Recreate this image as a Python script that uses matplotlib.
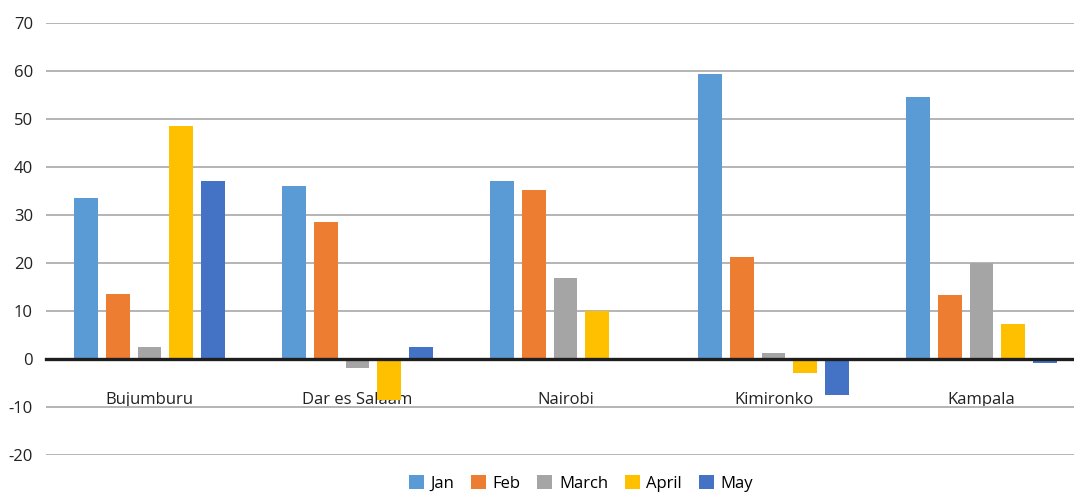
import numpy as np
import matplotlib.pyplot as plt

cities = ['Bujumburu', 'Dar es Salaam', 'Nairobi', 'Kimironko', 'Kampala']
months = ['Jan', 'Feb', 'March', 'April', 'May']
jan = [33.5, 36.0, 37.0, 59.4, 54.6]
feb = [13.5, 28.5, 35.2, 21.2, 13.3]
march = [2.4, -1.9, 16.8, 1.2, 20.0]
april = [48.6, -8.5, 10.0, -3.0, 7.2]
may = [37.0, 2.4, 0.0, -7.6, -0.9]
colors = ['#5B9BD5', '#ED7D31', '#A5A5A5', '#FFC000', '#4472C4']
yticks = [-20, -10, 0, 10, 20, 30, 40, 50, 60, 70]

plt.rcParams['font.family'] = ['Open Sans', 'DejaVu Sans']
plt.rcParams['axes.unicode_minus'] = False

fig = plt.figure(figsize=(10.74, 4.94), dpi=100)
# plot area runs a little past the right edge of the picture
ax = fig.add_axes([45.5/1074, 39/494, 1040/1074, 432/494])

x = np.arange(len(cities))
step = 0.1526
width = 0.115
series = [jan, feb, march, april, may]
for i, (vals, name) in enumerate(zip(series, months)):
    ax.bar(x + (i - 2) * step, vals, width, color=colors[i], label=name, zorder=3)

ax.set_xlim(-0.5, len(cities) - 0.5)
ax.set_ylim(-20, 70)
ax.set_yticks(yticks)
ax.yaxis.grid(True, color='#b4b4b4', linewidth=1.4, zorder=0)
ax.set_axisbelow(True)

for s in ['top', 'right', 'left']:
    ax.spines[s].set_visible(False)
ax.spines['bottom'].set_position(('data', 0))
ax.spines['bottom'].set_color('#1e1e1e')
ax.spines['bottom'].set_linewidth(2.4)
ax.spines['bottom'].set_zorder(4)

ax.set_xticks(x)
ax.set_xticklabels(cities)
ax.tick_params(axis='x', length=0, pad=23.5, labelsize=12, labelcolor='#222222')
ax.tick_params(axis='y', length=0, pad=9, labelsize=12, labelcolor='#222222')

fig.legend(loc='center', bbox_to_anchor=(581/1074, 1 - 483.5/494), ncol=5,
           frameon=False, fontsize=12, handlelength=0.9, handleheight=0.9,
           handletextpad=0.4, columnspacing=1.0, borderpad=0)

fig.savefig('out.png', dpi=100)
